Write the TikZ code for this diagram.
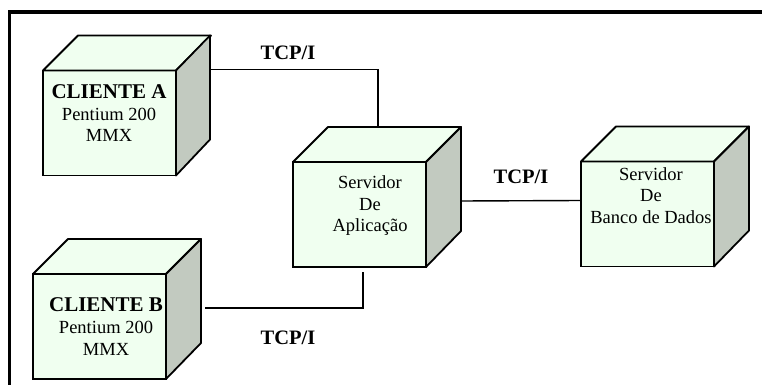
\documentclass[tikz,border=0pt]{standalone}
\usepackage{fontspec}
\setmainfont{Liberation Serif}
\usetikzlibrary{calc}

\definecolor{facefront}{RGB}{240,255,240}
\definecolor{faceside}{RGB}{194,202,192}

\tikzset{
  cubefront/.style={draw, line width=1.8pt, fill=facefront, minimum width=133pt,
    minimum height=105pt, inner sep=0pt, outer sep=0pt},
  cubetop/.style={draw, line width=1.8pt, fill=facefront, line join=round},
  cubeside/.style={draw, line width=1.8pt, fill=faceside, line join=round},
  boxtext/.style={align=center, font=\fontsize{18.5}{21.5}\selectfont, anchor=base},
  tcplabel/.style={font=\fontsize{20.5}{22}\selectfont\bfseries, anchor=base},
  link/.style={line width=1.4pt}
}

\begin{document}
\begin{tikzpicture}[x=1pt, y=1pt]
    \useasboundingbox (0,0) rectangle (762,-387);
    % outer frame
    \draw[line width=3.5pt] (762,-12) -- (9.5,-12) -- (9.5,-385);

    % Cliente A
    \node[cubefront] (cA) at (109.5,-123) {};
    \filldraw[cubetop] (cA.north west) -- ++(35,35) -- ++(133,0) -- (cA.north east) -- cycle;
    \filldraw[cubeside] (cA.north east) -- ++(34,35) -- ++(0,-104) -- (cA.south east) -- cycle;
    \node[boxtext] (cAtext) at (109,-142) {{\fontsize{21}{22}\selectfont\bfseries CLIENTE A}\\[0.5pt]Pentium 200\\MMX};

    % Cliente B
    \node[cubefront] (cB) at (99.5,-326.5) {};
    \filldraw[cubetop] (cB.north west) -- ++(35,35) -- ++(133,0) -- (cB.north east) -- cycle;
    \filldraw[cubeside] (cB.north east) -- ++(35,35) -- ++(0,-104) -- (cB.south east) -- cycle;
    \node[boxtext] (cBtext) at (106,-355) {{\fontsize{21}{22}\selectfont\bfseries CLIENTE B}\\[0.5pt]Pentium 200\\MMX};

    % Servidor de Aplicacao
    \node[cubefront] (sApp) at (359.5,-214.5) {};
    \filldraw[cubetop] (sApp.north west) -- ++(35,35) -- ++(133,0) -- (sApp.north east) -- cycle;
    \filldraw[cubeside] (sApp.north east) -- ++(35,35) -- ++(0,-104) -- (sApp.south east) -- cycle;
    \node[boxtext] (sApptext) at (370,-232) {Servidor\\De\\Aplicação};

    % Servidor de Banco de Dados
    \node[cubefront] (sDB) at (647.5,-214) {};
    \filldraw[cubetop] (sDB.north west) -- ++(35,35) -- ++(133,0) -- (sDB.north east) -- cycle;
    \filldraw[cubeside] (sDB.north east) -- ++(35,35) -- ++(0,-104) -- (sDB.south east) -- cycle;
    \node[boxtext] (sDBtext) at (651,-223) {Servidor\\De\\Banco de Dados};

    % ligacoes
    \draw[link] ($(cA.north east)+(34,1)$) -| ($(sApp.north)+(18.5,35)$);
    \draw[link] ($(cB.north east)+(39,-34)$) -| ($(sApp.south)+(3.5,-5)$);
    \draw[link] ($(sApp.north east)+(35,-39)$) -- ($(sDB.north west)+(0,-39)$);

    \node[tcplabel] (tcpA) at (288,-60) {TCP/I};
    \node[tcplabel] (tcpDB) at (521,-184) {TCP/I};
    \node[tcplabel] (tcpB) at (288,-344) {TCP/I};
\end{tikzpicture}
\end{document}
